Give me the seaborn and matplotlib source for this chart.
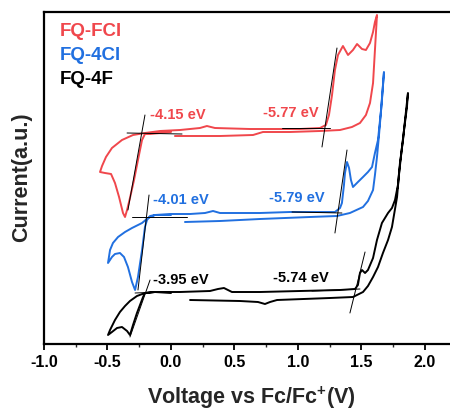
import matplotlib
matplotlib.use("Agg")
import matplotlib.pyplot as plt
import seaborn as sns
import pandas as pd

# ---- cyclic voltammetry traces (potential vs Fc/Fc+, current in a.u.) ----
fcl_v = [0.000, -0.087, -0.165, -0.205, -0.228, -0.260, -0.291, -0.323, -0.346, -0.362,
         -0.378, -0.409, -0.441, -0.472, -0.520, -0.559, -0.543, -0.512, -0.465, -0.386,
         -0.299, -0.205, -0.087, 0.071, 0.228, 0.283, 0.346, 0.622, 1.016, 1.173,
         1.220, 1.244, 1.268, 1.291, 1.315, 1.354, 1.394, 1.433, 1.465, 1.504,
         1.535, 1.567, 1.591, 1.606, 1.622, 1.606, 1.591, 1.567, 1.535, 1.488,
         1.425, 1.331, 1.173, 0.937, 0.724, 0.646, 0.386, 0.031]
fcl_i = [21.2, 21.1, 21.0, 21.0, 20.4, 18.4, 16.4, 14.6, 13.4, 12.7,
         13.1, 14.7, 16.1, 17.0, 17.1, 17.2, 17.8, 18.7, 19.6, 20.4,
         20.9, 21.1, 21.3, 21.4, 21.6, 21.8, 21.6, 21.5, 21.5, 21.6,
         21.9, 22.9, 24.9, 27.4, 28.9, 29.8, 28.9, 29.4, 30.0, 29.5,
         29.4, 30.1, 31.2, 32.2, 32.9, 29.4, 26.1, 24.1, 22.9, 22.1,
         21.7, 21.4, 21.3, 21.2, 21.2, 20.9, 20.8, 20.8]

cl4_v = [0.000, -0.126, -0.165, -0.189, -0.205, -0.228, -0.260, -0.283, -0.307, -0.339,
         -0.370, -0.402, -0.441, -0.465, -0.496, -0.480, -0.457, -0.417, -0.362, -0.307,
         -0.228, -0.181, -0.126, -0.008, 0.150, 0.268, 0.331, 0.386, 0.701, 0.937,
         1.173, 1.291, 1.331, 1.346, 1.362, 1.370, 1.386, 1.402, 1.417, 1.433,
         1.472, 1.512, 1.551, 1.583, 1.606, 1.630, 1.654, 1.677, 1.661, 1.638,
         1.622, 1.606, 1.591, 1.551, 1.512, 1.409, 1.307, 1.094, 0.701, 0.386, 0.110]
cl4_i = [12.9, 12.9, 12.8, 12.4, 11.7, 9.4, 6.7, 5.4, 6.2, 7.7,
         8.7, 9.1, 9.0, 8.7, 8.1, 9.4, 10.1, 10.7, 11.2, 11.6,
         12.1, 12.6, 12.9, 13.0, 13.0, 13.1, 13.3, 13.1, 13.1, 13.2,
         13.2, 13.2, 13.6, 14.1, 15.9, 17.1, 18.2, 17.6, 16.4, 15.7,
         16.2, 16.7, 17.2, 17.7, 19.1, 20.4, 23.4, 27.2, 24.4, 20.9,
         18.7, 16.9, 15.4, 14.3, 13.7, 13.1, 12.8, 12.7, 12.5, 12.3, 12.2]

f4_v = [0.000, -0.126, -0.205, -0.220, -0.244, -0.268, -0.299, -0.323, -0.346, -0.386,
        -0.425, -0.465, -0.496, -0.480, -0.441, -0.402, -0.362, -0.323, -0.268, -0.205,
        -0.126, 0.071, 0.307, 0.370, 0.417, 0.480, 0.701, 1.016, 1.331, 1.449,
        1.472, 1.488, 1.504, 1.528, 1.551, 1.591, 1.622, 1.661, 1.709, 1.740,
        1.764, 1.787, 1.803, 1.827, 1.843, 1.866, 1.858, 1.835, 1.819, 1.795,
        1.780, 1.756, 1.740, 1.709, 1.669, 1.630, 1.591, 1.551, 1.512, 1.433,
        1.252, 0.835, 0.780, 0.740, 0.685, 0.543, 0.150]
f4_i = [5.1, 5.2, 5.1, 4.7, 3.9, 3.1, 1.9, 0.9, 1.3, 1.7,
        1.6, 1.2, 0.9, 1.4, 2.4, 3.2, 3.8, 4.3, 4.8, 5.1,
        5.2, 5.2, 5.3, 5.5, 5.6, 5.2, 5.2, 5.3, 5.4, 5.5,
        5.9, 7.1, 7.4, 7.1, 7.4, 8.6, 10.4, 12.1, 13.1, 13.6,
        14.4, 15.9, 18.1, 20.4, 22.4, 25.1, 23.7, 21.4, 19.7, 16.9,
        14.7, 12.9, 11.7, 10.4, 9.1, 7.7, 6.7, 5.8, 5.2, 4.7,
        4.6, 4.4, 4.2, 4.0, 4.2, 4.3, 4.4]

# onset tangent construction lines: (v0, v1), (i0, i1)
tangent_v = [(1.307, 1.189), (0.874, 1.252), (-0.205, -0.339), (-0.346, 0.087),
             (1.386, 1.291), (0.953, 1.346), (-0.173, -0.260), (-0.307, 0.126),
             (1.528, 1.409), (1.110, 1.488), (-0.165, -0.323), (-0.283, -0.087)]
tangent_i = [(29.6, 19.7), (21.6, 21.6), (22.9, 13.4), (21.1, 21.0),
             (19.4, 11.1), (13.2, 13.1), (14.9, 5.4), (12.7, 12.7),
             (9.2, 3.1), (5.3, 5.5), (6.4, 0.7), (5.1, 5.2)]

series_names = ["FQ-FCl", "FQ-4Cl", "FQ-4F"]
series_colors = ["#F0474C", "#2170E0", "#000000"]

# energy-level labels: text, potential, current
level_text = ["-4.15 eV", "-5.77 eV", "-4.01 eV", "-5.79 eV", "-3.95 eV", "-5.74 eV"]
level_v = [0.055, 0.945, 0.079, 0.992, 0.079, 1.024]
level_i = [22.9, 23.1, 14.4, 14.6, 6.4, 6.6]
level_series = [0, 0, 1, 1, 2, 2]

x_ticks = [-1.0, -0.5, 0.0, 0.5, 1.0, 1.5, 2.0]

sns.set_theme(style="ticks")
plt.rcParams["font.family"] = ["Liberation Sans", "DejaVu Sans"]
plt.rcParams["font.weight"] = "bold"
plt.rcParams["mathtext.fontset"] = "custom"
plt.rcParams["mathtext.rm"] = "Liberation Sans:bold"
plt.rcParams["mathtext.bf"] = "Liberation Sans:bold"
plt.rcParams["mathtext.default"] = "bf"

fig = plt.figure(figsize=(4.5, 4.12), dpi=100)
ax = fig.add_axes([44 / 450, 1 - 344 / 412, 1 - 44 / 450, (344 - 12) / 412])

frames = []
for name, v, i in zip(series_names, [fcl_v, cl4_v, f4_v], [fcl_i, cl4_i, f4_i]):
    frames.append(pd.DataFrame({"V": v, "I": i, "sample": name, "step": range(len(v))}))
cv = pd.concat(frames, ignore_index=True)

for name, col in zip(series_names, series_colors):
    sub = cv[cv["sample"] == name]
    sns.lineplot(data=sub, x="V", y="I", sort=False, estimator=None,
                 color=col, lw=1.4, ax=ax, legend=False,
                 solid_joinstyle="round", solid_capstyle="round")

for tv, ti in zip(tangent_v, tangent_i):
    ax.plot(tv, ti, color="black", lw=0.7)

for txt, v, i, s in zip(level_text, level_v, level_i, level_series):
    ax.text(v, i, txt, color=series_colors[s], fontsize=10.5, fontweight="bold",
            ha="center", va="center")

for k, (name, col) in enumerate(zip(series_names, series_colors)):
    fig.text(60 / 450, 1 - (32 + 24 * k) / 412, name, color=col, fontsize=13.5,
             fontweight="bold", ha="left", va="center")

ax.set_xlim(-1.0, 2.197)
ax.set_ylim(0, 33.2)
ax.set_xticks(x_ticks)
ax.set_xticklabels([f"{t:.1f}" for t in x_ticks], fontsize=11.5, fontweight="bold")
ax.set_xticks([-0.75, -0.25, 0.25, 0.75, 1.25, 1.75], minor=True)
ax.set_yticks([])
ax.tick_params(axis="x", which="major", direction="out", length=4, width=1.3, pad=4, colors="black")
ax.tick_params(axis="x", which="minor", direction="out", length=2.5, width=1.0)
for side in ["left", "bottom", "top"]:
    ax.spines[side].set_linewidth(1.6)
    ax.spines[side].set_color("black")
ax.spines["right"].set_visible(False)

ax.set_xlabel("Voltage vs Fc/Fc$^{+}$(V)", fontsize=15.5, fontweight="bold", va="center")
ax.set_ylabel("Current(a.u.)", fontsize=15.5, fontweight="bold", va="center")
ax.xaxis.set_label_coords((251 - 44) / 406, -(398 - 344) / 332)
ax.yaxis.set_label_coords(-(44 - 22) / 406, (344 - 177) / 332)

fig.savefig("out.png", dpi=100)
